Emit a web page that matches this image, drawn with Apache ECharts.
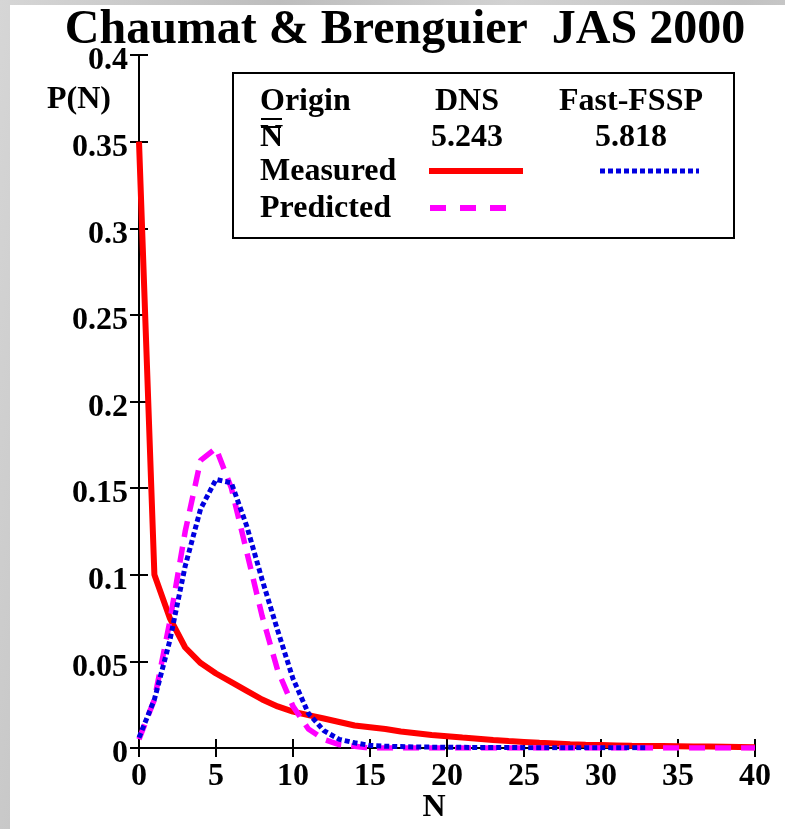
<!DOCTYPE html>
<html>
<head>
<meta charset="utf-8">
<script src="https://cdn.jsdelivr.net/npm/echarts@6/dist/echarts.min.js"></script>
<style>
  html, body { margin: 0; padding: 0; }
  body { width: 785px; height: 829px; background: #c9c9c9;
    background-image: linear-gradient(100deg, #d6d6d6 0%, #bdbdbd 30%, #d2d2d2 55%, #c2c2c2 80%, #d4d4d4 100%);
    position: relative; overflow: hidden; }
  #panel { position: absolute; left: 10px; top: 5px; right: 0; bottom: 0; background: #fff; }
  #chart { position: absolute; left: 0; top: 0; width: 785px; height: 829px; }
</style>
</head>
<body>
<div id="panel"></div>
<div id="chart"></div>
<script>
// ---- data ----
const titleText = 'Chaumat & Brenguier  JAS 2000';
const xTicks = [0, 5, 10, 15, 20, 25, 30, 35, 40];
const yTicks = [0, 0.05, 0.1, 0.15, 0.2, 0.25, 0.3, 0.35, 0.4];

// DNS measured (red solid), N = 0..40
const nMeasured = [0,1,2,3,4,5,6,7,8,9,10,11,12,13,14,15,16,17,18,19,20,21,22,23,24,25,26,27,28,29,30,31,32,33,34,35,36,37,38,39,40];
const pMeasured = [0.350,0.100,0.075,0.058,0.049,0.043,0.038,0.033,0.028,0.024,0.021,0.019,0.017,0.015,0.013,0.012,0.011,0.0095,0.0085,0.0075,0.0068,0.006,0.0053,0.0046,0.004,0.0035,0.003,0.0026,0.0022,0.0019,0.0017,0.0015,0.0013,0.0012,0.0011,0.001,0.0009,0.0008,0.0007,0.0006,0.0005];

// DNS predicted (magenta dashed), N = 0..40
const nPredicted = [0,1,2,3,4,5,6,7,8,9,10,11,12,13,14,15,16,17,18,19,20,21,22,23,24,25,26,27,28,29,30,31,32,33,34,35,36,37,38,39,40];
const pPredicted = [0.005,0.028,0.073,0.125,0.166,0.173,0.150,0.113,0.076,0.045,0.024,0.011,0.005,0.002,0.001,0,0,0,0,0,0,0,0,0,0,0,0,0,0,0,0,0,0,0,0,0,0,0,0,0,0];

// Fast-FSSP measured (blue dotted), N = 0..33
const nFast = [0,1,2,3,4,5,6,7,8,9,10,11,12,13,14,15,16,17,18,19,20,21,22,23,24,25,26,27,28,29,30,31,32,33];
const pFast = [0.006,0.028,0.062,0.105,0.138,0.155,0.153,0.128,0.097,0.068,0.040,0.020,0.010,0.005,0.003,0.0015,0.001,0.0008,0.0006,0.0005,0.0004,0.0004,0.0003,0.0003,0.0003,0.0002,0.0002,0.0002,0.0002,0.0002,0.0002,0.0002,0.0002,0.0002];

const legendHeaders = ['Origin', 'DNS', 'Fast-FSSP'];
const legendMeans = ['5.243', '5.818'];
const legendRows = ['Measured', 'Predicted'];

const pairs = (xs, ys) => xs.map((x, i) => [x, ys[i]]);

const FONT = "'Liberation Serif', 'Times New Roman', serif";
const RED = '#ff0000', MAG = '#ff00ff', BLUE = '#0000e0';

const chart = echarts.init(document.getElementById('chart'), null, { renderer: 'canvas' });

const axisCommon = {
  type: 'value',
  axisLine: { show: true, lineStyle: { color: '#000', width: 2 } },
  axisTick: { show: true, inside: true, length: 9, lineStyle: { color: '#000', width: 2 } },
  splitLine: { show: false },
};
const labelStyle = { color: '#000', fontFamily: FONT, fontWeight: 'bold', fontSize: 32 };

function text(x, y, s, align, size) {
  return { type: 'text', x: x, y: y, z: 100,
    style: { text: s, fill: '#000', font: 'bold ' + (size || 32) + 'px ' + FONT,
      textAlign: align || 'left', textVerticalAlign: 'middle' } };
}
function seg(x1, y1, x2, y2, color, width, dash) {
  return { type: 'line', z: 100, shape: { x1: x1, y1: y1, x2: x2, y2: y2 },
    style: { stroke: color, lineWidth: width, lineDash: dash || null } };
}

const graphics = [
  text(405, 31, titleText, 'center', 48),
  text(111, 100, 'P(N)', 'right'),
  text(434, 808, 'N', 'center'),
  { type: 'rect', z: 90, shape: { x: 233, y: 73, width: 501, height: 165 },
    style: { fill: '#fff', stroke: '#000', lineWidth: 2 } },
  text(260, 102, legendHeaders[0], 'left'),
  seg(261, 119, 282, 119, '#000', 2),
  text(467, 102, legendHeaders[1], 'center'),
  text(631, 102, legendHeaders[2], 'center'),
  text(260, 138, 'N', 'left'),
  seg(261, 127, 281, 127, '#000', 2),
  text(467, 138, legendMeans[0], 'center'),
  text(631, 138, legendMeans[1], 'center'),
  text(260, 172, legendRows[0], 'left'),
  seg(429, 171, 523, 171, RED, 6),
  seg(600, 171, 699, 171, BLUE, 5, [5, 3]),
  text(260, 209, legendRows[1], 'left'),
  seg(430, 208, 512, 208, MAG, 6, [16, 14]),
];

chart.setOption({
  animation: false,
  backgroundColor: 'transparent',
  grid: { left: 139, right: 30, top: 55, bottom: 81, containLabel: false },
  xAxis: [
    Object.assign({}, axisCommon, { position: 'bottom', min: xTicks[0], max: xTicks[xTicks.length - 1], interval: 5,
      axisLabel: Object.assign({ margin: 13 }, labelStyle) }),
    Object.assign({}, axisCommon, { position: 'top', min: xTicks[0], max: xTicks[xTicks.length - 1], interval: 5,
      axisLabel: { show: false } }),
  ],
  yAxis: [
    Object.assign({}, axisCommon, { position: 'left', min: yTicks[0], max: yTicks[yTicks.length - 1], interval: 0.05,
      axisLabel: Object.assign({ margin: 11, formatter: '{v|{value}}',
        rich: { v: { fontFamily: FONT, fontWeight: 'bold', fontSize: 32, color: '#000', padding: [12, 0, 0, 0] } } }, labelStyle) }),
    Object.assign({}, axisCommon, { position: 'right', min: yTicks[0], max: yTicks[yTicks.length - 1], interval: 0.05,
      axisLabel: { show: false } }),
  ],
  series: [
    { name: 'DNS Measured', type: 'line', data: pairs(nMeasured, pMeasured), showSymbol: false, smooth: false,
      lineStyle: { color: RED, width: 6 }, z: 2 },
    { name: 'DNS Predicted', type: 'line', data: pairs(nPredicted, pPredicted), showSymbol: false,
      lineStyle: { color: MAG, width: 5.5, type: [16, 10] }, z: 3 },
    { name: 'Fast-FSSP Measured', type: 'line', data: pairs(nFast, pFast), showSymbol: false,
      lineStyle: { color: BLUE, width: 5, type: [5, 3] }, z: 4 },
  ],
  graphic: graphics,
});
</script>
</body>
</html>
